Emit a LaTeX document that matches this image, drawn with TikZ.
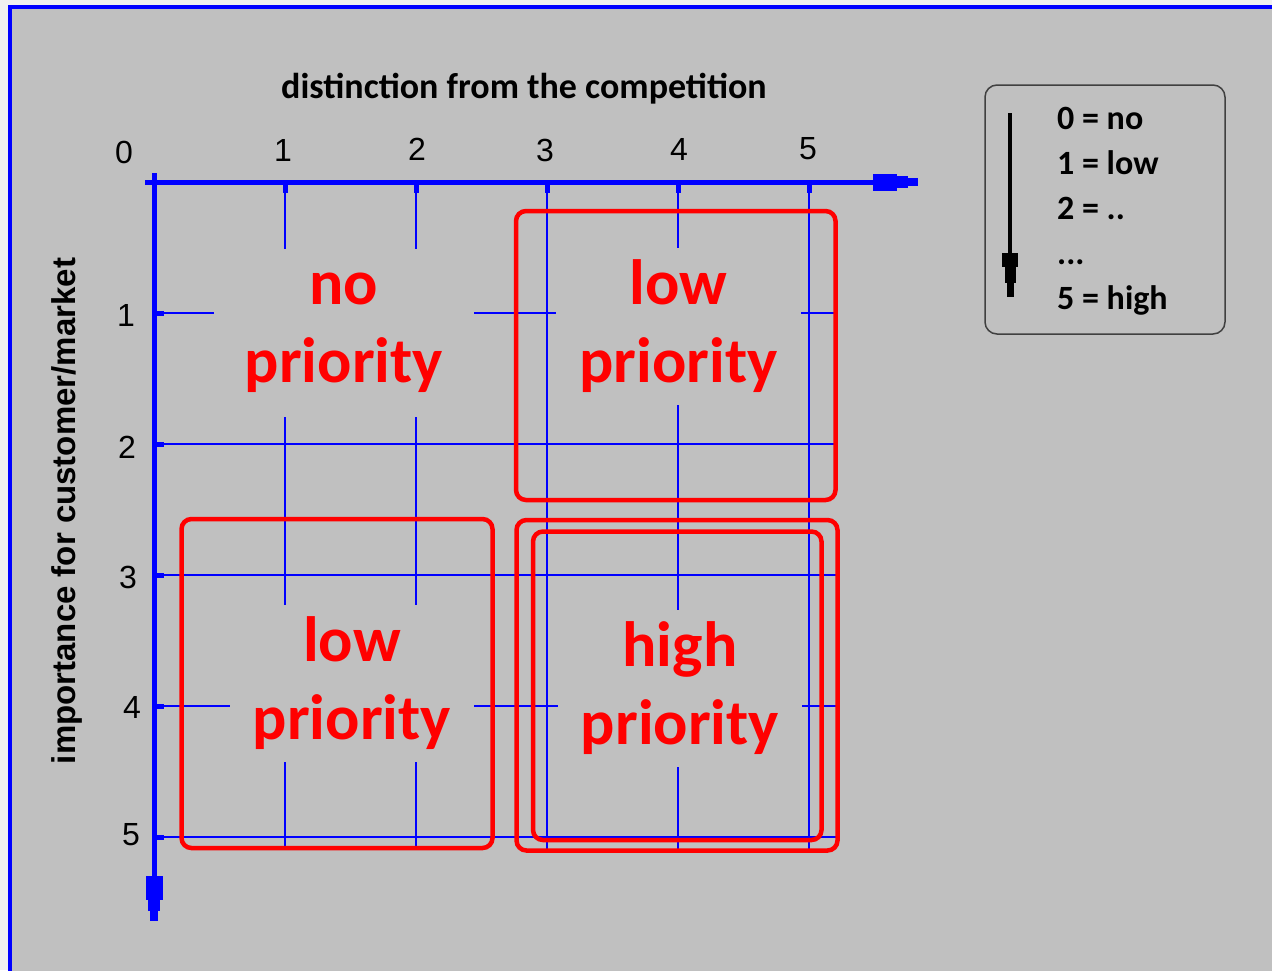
\documentclass[tikz,border=0pt]{standalone}
\usepackage{fontspec}
\usetikzlibrary{arrows.meta}
\newfontfamily\calibfont{Carlito}
\newfontfamily\arialfont{Liberation Sans}
\definecolor{panelgray}{HTML}{C0C0C0}
\definecolor{axisblue}{HTML}{0000FF}
\definecolor{zonered}{HTML}{FF0000}
\definecolor{legendedge}{HTML}{404040}
\definecolor{outside}{HTML}{F0F0F0}

\tikzset{
  frame/.style={draw=axisblue, line width=4pt, fill=panelgray},
  gridline/.style={draw=axisblue, line width=1.5pt},
  tickmark/.style={draw=axisblue, line width=5pt},
  axisline/.style={draw=axisblue, line width=5pt,
    -{Rectangle[length=24pt,width=17pt,line width=0pt,sep=0pt]
      Rectangle[length=11pt,width=12pt,line width=0pt,sep=0pt]
      Rectangle[length=10pt,width=8pt,line width=0pt]}},
  legendarrow/.style={draw=black, line width=4pt,
    -{Rectangle[length=14pt,width=16pt,line width=0pt,sep=0pt]
      Rectangle[length=16pt,width=11pt,line width=0pt,sep=0pt]
      Rectangle[length=14pt,width=7pt,line width=0pt]}},
  zone/.style={draw=zonered, line width=4.5pt, rounded corners=10pt},
  prio/.style={fill=panelgray, text=zonered, align=center,
    font=\calibfont\bfseries\fontsize{64}{78}\selectfont,
    inner xsep=23pt, inner ysep=12pt},
  ticklabel/.style={font=\arialfont\fontsize{32}{38}\selectfont, inner sep=0pt},
  axistitle/.style={font=\calibfont\bfseries\fontsize{36}{44}\selectfont, inner sep=0pt},
  ytitle/.style={font=\arialfont\bfseries\fontsize{33}{40}\selectfont, inner sep=0pt, rotate=90},
  legendbox/.style={draw=legendedge, line width=1.5pt, rounded corners=12pt,
    minimum width=240pt, minimum height=249pt, inner sep=0pt},
  legendtext/.style={font=\calibfont\bfseries\fontsize{34}{45}\selectfont,
    align=left, inner sep=0pt}
}

\begin{document}
\begin{tikzpicture}[x=1pt,y=-1pt]
\useasboundingbox (0,0) rectangle (1272,970);
\clip (0,0) rectangle (1272,970);
\fill[outside] (0,0) rectangle (1272,970);
\draw[frame] (9.5,7) rectangle (1300,1000);

% grid of the 0..5 scale
\foreach \k in {1,...,5} {
  \draw[gridline] ({154+131*\k},182) -- ({154+131*\k},850);
  \draw[gridline] (154,{182+131*\k}) -- (838,{182+131*\k});
}

% quadrant labels (their fill breaks the grid lines)
\node[prio, inner xsep=31pt, inner ysep=24pt] (noprio) at (344,333) {no\\priority};
\node[prio] (lowprioa) at (678.5,326.5) {low\\priority};
\node[prio] (lowpriob) at (352,683.5) {low\\priority};
\node[prio] (highprio) at (680,688.5) {high\\priority};

% priority zones
\draw[zone] (516,211) rectangle (835.5,500);
\draw[zone] (181.5,519) rectangle (492.5,848);
\draw[zone] (516.5,520) rectangle (837.5,850.5);
\draw[zone] (533,531.5) rectangle (821.5,840);

% axes
\coordinate (xstart) at (145,182);
\coordinate (xend) at (918,182);
\coordinate (ystart) at (154,173);
\coordinate (yend) at (154,921);
\draw[axisline] (xstart) -- (xend);
\draw[axisline] (ystart) -- (yend);
\foreach \k in {1,...,5} {
  \draw[tickmark] ({154+131*\k},182) -- ++(0,11);
  \draw[tickmark] (154,{182+131*\k}) -- ++(10,0);
}

% scale numbers
\node[ticklabel] (x0) at (124,152) {0};
\node[ticklabel] (x1) at (283,150) {1};
\node[ticklabel] (x2) at (417,149) {2};
\node[ticklabel] (x3) at (545,150) {3};
\node[ticklabel] (x4) at (679,149) {4};
\node[ticklabel] (x5) at (808,149) {5};
\node[ticklabel] (y1) at (126,315) {1};
\node[ticklabel] (y2) at (127,447) {2};
\node[ticklabel] (y3) at (128,577) {3};
\node[ticklabel] (y4) at (132,707) {4};
\node[ticklabel] (y5) at (131,835) {5};

% axis titles
\node[axistitle] (xtitle) at (524,88.5) {distinction from the competition};
\node[ytitle] (ytitle) at (67,511) {importance for customer/market};

% legend
\node[legendbox] (legend) at (1105,209.5) {};
\node[legendtext, anchor=north west] (scale) at (1057,106.5)
  {0 = no\\1 = low\\2 = ..\\...\\5 = high};
\coordinate (lgtop) at (1010,113);
\coordinate (lgbot) at (1010,297);
\draw[legendarrow] (lgtop) -- (lgbot);
\end{tikzpicture}
\end{document}
